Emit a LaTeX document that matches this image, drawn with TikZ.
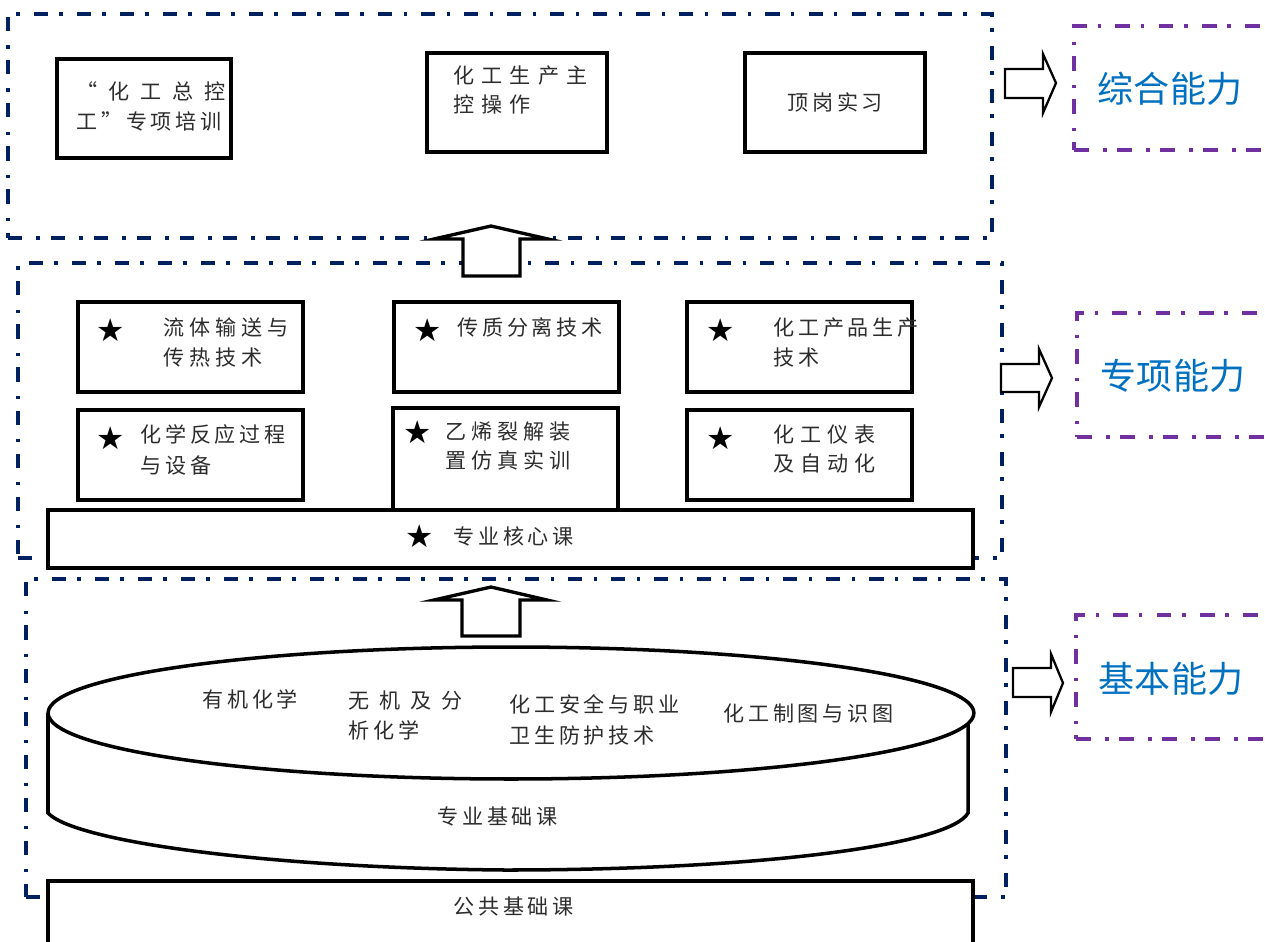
\documentclass[tikz,border=0pt]{standalone}
\usepackage{fontspec}
\usetikzlibrary{shapes.geometric,fit}
\newfontfamily\cjk[LetterSpace=18]{Noto Sans CJK SC}
\newfontfamily\cjkcap{Noto Sans CJK SC}
\newfontfamily\symfont{DejaVu Sans}
\definecolor{navy}{RGB}{0,32,96}
\definecolor{ppl}{RGB}{112,48,160}
\definecolor{lblue}{RGB}{0,112,192}
\definecolor{txt}{RGB}{45,45,45}
\tikzset{
  navybox/.style={draw=navy, line width=2.1pt, inner sep=0pt, dash pattern=on 8pt off 8pt on 2pt off 6.5pt},
  pplbox/.style={draw=ppl, line width=2.1pt, inner sep=0pt, dash pattern=on 8.5pt off 8pt on 2pt off 6pt},
  box/.style={draw=black, line width=2pt, fill=white, inner sep=0pt},
  lbl/.style={inner sep=0pt, anchor=north west, align=left, text=txt, font=\cjk\fontsize{12}{17.5}\selectfont},
  abilitytext/.style={inner sep=0pt, text=lblue, font=\cjkcap\fontsize{20.5}{24}\selectfont},
  starmk/.style={inner sep=0pt, font=\symfont\fontsize{18}{18}\selectfont},
  blockarrow/.style={draw=black, line width=1.3pt, fill=white, line join=miter},
  uparrow/.style={draw=black, line width=1.9pt, fill=white, line join=miter},
}
\begin{document}
\begin{tikzpicture}[x=0.02cm,y=-0.02cm]
\useasboundingbox (0,0) rectangle (1265,941);
\clip (0,0) rectangle (1265,941);

% group frames
\node[navybox, fit={(8,14) (992,238)}] (g1) {};
\node[navybox, fit={(18,263) (1002,558)}] (g2) {};
\node[navybox, fit={(26,579) (1006,897)}] (g3) {};

% ability frames
\node[pplbox, fit={(1074,26) (1320,150)}] (p1) {};
\node[pplbox, fit={(1077,313) (1320,437)}] (p2) {};
\node[pplbox, fit={(1076,615) (1320,739)}] (p3) {};
\node[abilitytext] (c1) at (1170,89) {综合能力};
\node[abilitytext] (c2) at (1173,376) {专项能力};
\node[abilitytext] (c3) at (1171,679) {基本能力};

% top row
\node[box, fit={(57,59) (231,158)}] (t1) {};
\node[box, fit={(427,53) (607,152)}] (t2) {};
\node[box, fit={(745,53) (925,152)}] (t3) {};
\node[lbl] (t1x) at (76,81) {{\addfontfeatures{LetterSpace=52}“化工总控}\\工”专项培训};
\node[lbl, font=\cjk\addfontfeatures{LetterSpace=34}\fontsize{12}{16.5}\selectfont] (t2x) at (453,65) {化工生产主\\控操作};
\node[lbl] (t3x) at (787,92) {顶岗实习};

% up arrow 1
\draw[uparrow] (463,276) -- (463,239) -- (434,239) -- (491,226) -- (548,239) -- (520,239) -- (520,276) -- cycle;

% middle boxes
\node[box, fit={(78,302) (303,392)}] (m1) {};
\node[box, fit={(394,302) (619,392)}] (m2) {};
\node[box, fit={(687,302) (912,392)}] (m3) {};
\node[box, fit={(78,410) (303,500)}] (m4) {};
\node[box, fit={(393,408) (618,512)}] (m5) {};
\node[box, fit={(687,410) (912,500)}] (m6) {};
\node[box, fit={(48,510) (973,568)}] (core) {};

\node[starmk] (s1) at (111,330) {★};
\node[starmk] (s2) at (428,330) {★};
\node[starmk] (s3) at (721,330) {★};
\node[starmk] (s4) at (111,438) {★};
\node[starmk] (s5) at (418,432) {★};
\node[starmk] (s6) at (721,438) {★};
\node[starmk] (s7) at (420,536) {★};

\node[lbl, font=\cjk\addfontfeatures{LetterSpace=24}\fontsize{12}{17}\selectfont] (m1x) at (163,317) {流体输送与\\传热技术};
\node[lbl] (m2x) at (457,317) {传质分离技术};
\node[lbl] (m3x) at (773,317) {化工产品生产\\技术};
\node[lbl] (m4x) at (140,424) {化学反应过程\\与设备};
\node[lbl, font=\cjk\addfontfeatures{LetterSpace=23}\fontsize{12}{17}\selectfont] (m5x) at (445,421) {乙烯裂解装\\置仿真实训};
\node[lbl, font=\cjk\addfontfeatures{LetterSpace=28}\fontsize{12}{17}\selectfont] (m6x) at (773,424) {化工仪表\\及自动化};
\node[lbl] (corex) at (453,526) {专业核心课};

% up arrow 2
\draw[uparrow] (462,636) -- (462,600) -- (434,600) -- (491,587) -- (547,600) -- (520,600) -- (520,636) -- cycle;

% cylinder
\draw[line width=2pt] (48,713) -- (48,813) .. controls (75,842) and (270,868) .. (505,870) .. controls (760,870) and (950,845) .. (968,813) -- (968,724);
\node[ellipse, draw, line width=2pt, fill=white, minimum width=18.52cm, minimum height=2.64cm, inner sep=0pt] (ell) at (511,713) {};
\node[lbl] (e1) at (202,689) {有机化学};
\node[lbl] (e2) at (348,690) {{\addfontfeatures{LetterSpace=48}无机及分}\\析化学};
\node[lbl] (e3) at (509,694) {化工安全与职业\\卫生防护技术};
\node[lbl] (e4) at (723,703) {化工制图与识图};
\node[lbl] (basex) at (437,806) {专业基础课};

% public base
\node[box, fit={(48,881) (973,960)}] (pub) {};
\node[lbl] (pubx) at (453,896) {公共基础课};

% right block arrows
\draw[blockarrow] (1005,69) -- (1043,69) -- (1043,54) -- (1056,83) -- (1043,113) -- (1043,98) -- (1005,98) -- cycle;
\draw[blockarrow] (1001,364) -- (1039,364) -- (1039,349) -- (1052,378) -- (1039,407) -- (1039,392) -- (1001,392) -- cycle;
\draw[blockarrow] (1013,668) -- (1051,668) -- (1051,654) -- (1063,683) -- (1051,712) -- (1051,697) -- (1013,697) -- cycle;
\end{tikzpicture}
\end{document}
